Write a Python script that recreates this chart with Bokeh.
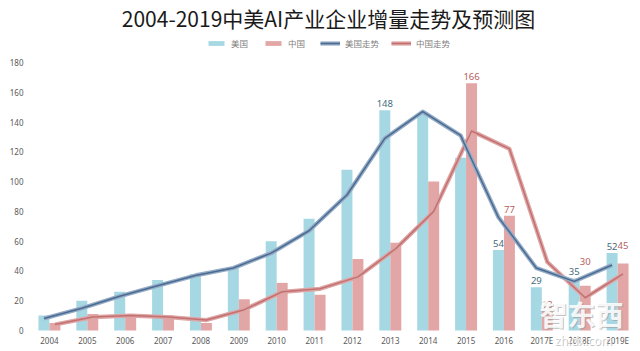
from bokeh.plotting import figure
from bokeh.models import ColumnDataSource, Legend, LegendItem, Label, FixedTicker, Range1d
from bokeh.core.properties import value
from bokeh.embed import file_html
from bokeh.resources import INLINE

years = ["2004", "2005", "2006", "2007", "2008", "2009", "2010", "2011", "2012",
         "2013", "2014", "2015", "2016", "2017E", "2018E", "2019E"]
us = [10, 20, 26, 34, 38, 42, 60, 75, 108, 148, 146, 116, 54, 29, 35, 52]
cn = [5, 11, 9, 10, 5, 21, 32, 24, 48, 59, 100, 166, 77, 13, 30, 45]
us_trend = [8, 15, 23, 30, 37, 42, 52, 67, 91, 129, 147, 131, 76, 42, 33, 44]
cn_trend = [4, 9, 10, 9, 7, 14, 26, 28, 36, 55, 80, 134, 122, 46, 22, 38]
y_ticks = [0, 20, 40, 60, 80, 100, 120, 140, 160, 180]
us_labeled = ["2013", "2016", "2017E", "2018E", "2019E"]
cn_labeled = ["2015", "2016", "2017E", "2018E", "2019E"]
cn_label_shift = {"2018E": 18, "2019E": 12}

title_text = "2004-2019中美AI产业企业增量走势及预测图"
CJK = "Noto Sans CJK SC"

idx = list(range(len(years)))
off = 0.145
bw = 0.29

# The frame fills the canvas height (351 px) so title, legend and watermark sit
# inside it; the value axis 0..180 occupies 268 px, with 0 drawn 21 px above the bottom.
H = 351
PX_PER_UNIT = 268 / 180
y_start = -21 / PX_PER_UNIT
y_end = 180 + 62 / PX_PER_UNIT

src = ColumnDataSource(dict(
    xu=[i - off for i in idx], xc=[i + off for i in idx],
    us=us, cn=cn, ust=us_trend, cnt=cn_trend))

p = figure(width=640, height=H, output_backend="svg", toolbar_location=None,
           x_range=Range1d(-0.5, len(years) - 0.5), y_range=Range1d(y_start, y_end),
           min_border_left=30, min_border_right=4, min_border_top=0, min_border_bottom=0)
p.outline_line_color = None
p.xgrid.grid_line_color = None
p.ygrid.grid_line_color = None
p.background_fill_color = "white"
p.border_fill_color = "white"

US_BAR = "#a6d8e4"
CN_BAR = "#e3a6a6"
r_us = p.vbar(x="xu", top="us", bottom=0, width=bw, source=src, fill_color=US_BAR, line_color=None)
r_cn = p.vbar(x="xc", top="cn", bottom=0, width=bw, source=src, fill_color=CN_BAR, line_color=None)

c_halo = p.line(x="xc", y="cnt", source=src, line_color="#dda5a5", line_width=4.2, line_join="round")
c_core = p.line(x="xc", y="cnt", source=src, line_color="#c47070", line_width=1.5, line_join="round")
u_halo = p.line(x="xu", y="ust", source=src, line_color="#96acc6", line_width=4.2, line_join="round")
u_core = p.line(x="xu", y="ust", source=src, line_color="#4a6b92", line_width=1.5, line_join="round")

# data labels
ul = ColumnDataSource(dict(
    x=[years.index(y) - off for y in us_labeled],
    y=[us[years.index(y)] for y in us_labeled],
    t=[str(us[years.index(y)]) for y in us_labeled],
    o=[-3 for y in us_labeled]))
cl = ColumnDataSource(dict(
    x=[years.index(y) + off for y in cn_labeled],
    y=[cn[years.index(y)] for y in cn_labeled],
    t=[str(cn[years.index(y)]) for y in cn_labeled],
    o=[-3 - cn_label_shift.get(y, 0) for y in cn_labeled]))
p.text(x="x", y="y", text="t", y_offset="o", source=ul, text_align="center",
       text_baseline="bottom", text_font_size="9.5px", text_color="#3f6c7c",
       text_font=value("Noto Sans"))
p.text(x="x", y="y", text="t", y_offset="o", source=cl, text_align="center",
       text_baseline="bottom", text_font_size="9.5px", text_color="#b8605e",
       text_font=value("Noto Sans"))

# axes
for ax in (p.xaxis[0], p.yaxis[0]):
    ax.axis_line_color = None
    ax.major_tick_line_color = None
    ax.minor_tick_line_color = None
    ax.major_label_text_font_size = "8px"
    ax.major_label_text_color = "#595959"
    ax.major_label_text_font = "Noto Sans"
p.xaxis.ticker = FixedTicker(ticks=idx)
p.xaxis.major_label_overrides = {i: y for i, y in enumerate(years)}
p.xaxis.fixed_location = 0
p.xaxis.major_label_standoff = -2
p.yaxis.ticker = FixedTicker(ticks=y_ticks)
p.yaxis.major_label_standoff = 1

legend = Legend(items=[
    LegendItem(label="美国", renderers=[r_us]),
    LegendItem(label="中国", renderers=[r_cn]),
    LegendItem(label="美国走势", renderers=[u_halo, u_core]),
    LegendItem(label="中国走势", renderers=[c_halo, c_core]),
], orientation="horizontal", location=(176, H - 49), padding=0, margin=0, spacing=12,
    label_standoff=5, glyph_width=20, glyph_height=6, label_height=12,
    label_text_font_size="8.5px", label_text_color="#7f7f7f", label_text_font=CJK,
    border_line_color=None, background_fill_alpha=0)
p.add_layout(legend, "center")

p.add_layout(Label(x=298, y=H - 17, x_units="screen", y_units="screen", text=title_text,
                   text_align="center", text_baseline="middle", text_font_size="21px",
                   text_font=CJK, text_color="#1a1a1a"))

# watermark
for dx, dy, col, a in [(1, -1, "#9a9a9a", 0.6), (0, 0, "white", 0.9)]:
    p.add_layout(Label(x=551 + dx, y=H - 313 + dy, x_units="screen", y_units="screen", text="智东西",
                       text_align="center", text_baseline="middle", text_font_size="28px",
                       text_font=CJK, text_font_style="bold", text_color=col, text_alpha=a))
    p.add_layout(Label(x=553 + dx, y=H - 340 + dy, x_units="screen", y_units="screen", text="zhidx.com",
                       text_align="center", text_baseline="middle", text_font_size="12px",
                       text_font="Noto Sans", text_color=col, text_alpha=a))

open("out.html", "w").write(file_html(p, INLINE))
